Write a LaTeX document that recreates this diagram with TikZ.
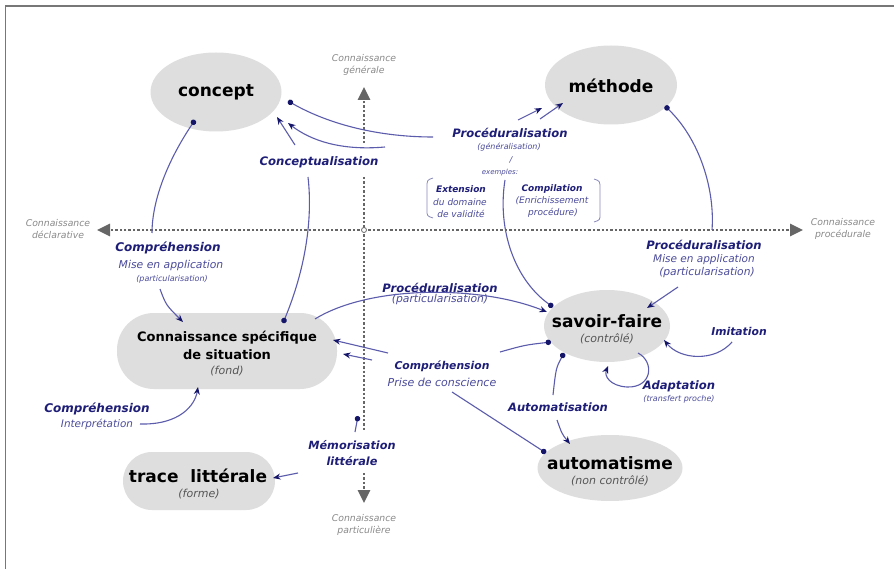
\documentclass[tikz,border=0pt]{standalone}
\usepackage{fontspec}
\setmainfont{DejaVu Sans}
\usetikzlibrary{arrows.meta,shapes.geometric}
\definecolor{labc}{HTML}{1E1E78}
\definecolor{subc}{HTML}{4B4B9B}
\definecolor{linec}{HTML}{5C5CAC}
\definecolor{dotc}{HTML}{15156A}
\definecolor{axisc}{HTML}{666666}
\definecolor{axtext}{HTML}{8A8A8A}
\definecolor{nodec}{HTML}{DEDEDE}
\definecolor{nodesub}{HTML}{555555}
\definecolor{framec}{HTML}{777777}
\definecolor{brc}{HTML}{8A8ABB}
\newcommand{\fsz}[1]{\fontsize{#1}{#1}\selectfont}
\begin{document}
\begin{tikzpicture}[x=1pt,y=-1pt,
  blob/.style={fill=nodec, draw=none, inner sep=0pt},
  ttl/.style={font=\fontsize{17}{20}\selectfont\bfseries, text=black, inner sep=0pt},
  ttlm/.style={font=\fontsize{13}{15}\selectfont\bfseries, text=black, inner sep=0pt},
  sub/.style={font=\fontsize{11}{13}\selectfont\itshape, text=nodesub, inner sep=0pt},
  lab/.style={font=\fontsize{11.6}{14}\selectfont\bfseries\itshape, text=labc, inner sep=0pt},
  labs/.style={font=\fontsize{9}{11}\selectfont\bfseries\itshape, text=labc, inner sep=0pt},
  lsub/.style={font=\fontsize{10.8}{13}\selectfont\itshape, text=subc, inner sep=0pt},
  lsubs/.style={font=\fontsize{9}{11}\selectfont\itshape, text=subc, inner sep=0pt},
  tinyt/.style={font=\fontsize{8}{9}\selectfont\itshape, text=subc, inner sep=0pt},
  axt/.style={font=\fontsize{9.3}{12}\selectfont\itshape, text=axtext, align=center, inner sep=0pt},
  conn/.style={draw=linec, line width=1.1pt},
  cdot/.style={conn, {Circle[length=5.5pt,color=dotc]}-},
  carrow/.style={conn, -{Stealth[length=7.5pt,width=6pt,color=dotc]}},
  ahead/.style={-{Stealth[length=7.5pt,width=6pt,color=dotc]}},
  axisl/.style={draw=axisc, line width=2.6pt, dash pattern=on 2.4pt off 2pt},
  axtip/.style={-{Triangle[length=13pt,width=12pt,color=axisc]}},
]
\fill[white] (0,0) rectangle (894,569);
\useasboundingbox (0,0) rectangle (894,569);
\draw[framec, line width=1.6pt] (5.5,569) -- (5.5,6) -- (894,6);

% ---------- axes ----------
\coordinate (axL) at (97,230);
\coordinate (axR) at (803,230);
\coordinate (axT) at (364,87);
\coordinate (axTa) at (364,143);
\coordinate (axTb) at (364,177);
\coordinate (axBa) at (364,430);
\coordinate (axBb) at (364,473);
\coordinate (axB) at (364,503);
\draw[axisl, axtip] (axTa) -- (axT);
\draw[axisl] (axTb) -- (axBa);
\draw[axisl, axtip] (axBb) -- (axB);
\draw[axisl, axtip] (364,230) -- (axR);
\draw[axisl, axtip] (364,230) -- (axL);
\node[draw=axisc, fill=white, circle, inner sep=0pt, minimum size=5pt, line width=0.8pt] (origin) at (364,230) {};

\node[axt] (axtT) at (364,65) {Connaissance\\générale};
\node[axt] (axtL) at (58,229) {Connaissance\\déclarative};
\node[axt] (axtR) at (843,229) {Connaissance\\procédurale};
\node[axt] (axtB) at (364,525) {Connaissance\\particulière};

% ---------- knowledge nodes ----------
\node[blob, ellipse, minimum width=131pt, minimum height=79pt] (concept) at (216,92) {};
\node[ttl] (conceptT) at (216,92) {concept};

\node[blob, ellipse, minimum width=132pt, minimum height=79pt] (methode) at (611,85) {};
\node[ttl] (methodeT) at (611,86) {méthode};

\node[blob, rectangle, rounded corners=37pt, minimum width=220pt, minimum height=76pt] (css) at (227,351) {};
\node[ttlm] (cssT1) at (227,338) {Connaissance spécifique};
\node[ttlm] (cssT2) at (227,355) {de situation};
\node[sub] (cssT3) at (227,371) {(fond)};

\node[blob, rectangle, rounded corners=29pt, minimum width=152pt, minimum height=58pt] (trace) at (199,481) {};
\node[ttl] (traceT) at (198,476) {trace\ \ littérale};
\node[sub] (traceS) at (199,494) {(forme)};

\node[blob, ellipse, minimum width=126pt, minimum height=72pt] (sf) at (607,326) {};
\node[ttl] (sfT) at (607,321) {savoir-faire};
\node[sub] (sfS) at (607,339) {(contrôlé)};

\node[blob, ellipse, minimum width=145pt, minimum height=66pt] (auto) at (610,468) {};
\node[ttl] (autoT) at (610,463) {automatisme};
\node[sub] (autoS) at (610,481) {(non contrôlé)};

% ---------- labels ----------
\node[lab, font=\fsz{11.7}\bfseries\itshape] (lConc) at (319,162) {Conceptualisation};

\node[lab, font=\fsz{12}\bfseries\itshape] (lCompL) at (168,248) {Compréhension};
\node[lsub] (lCompLs) at (171,266) {Mise en application};
\node[tinyt] (lCompLt) at (172,279) {(particularisation)};

\node[lab] (lProcG) at (510,133) {Procéduralisation};
\node[tinyt] (lProcGs) at (509,147) {(généralisation)};
\node[tinyt] (slash) at (511,160) {/};
\node[tinyt, font=\fsz{7}\itshape] (exemples) at (500,173) {exemples:};
\node[labs] (ext1) at (461,189) {Extension};
\node[lsubs] (ext2) at (460,202) {du domaine};
\node[lsubs] (ext3) at (461,214) {de validité};
\node[labs] (comp1) at (552,189) {Compilation};
\node[lsubs] (comp2) at (552,201) {(Enrichissement};
\node[lsubs] (comp3) at (553,213) {procédure)};
\draw[brc, line width=0.8pt] (433,178) .. controls (427,180) .. (427,188) -- (427,210) .. controls (427,216) .. (433,218);
\draw[brc, line width=0.8pt] (594,179) .. controls (600,181) .. (600,189) -- (600,214) .. controls (600,220) .. (594,222);

\node[lab] (lProcR) at (704,245) {Procéduralisation};
\node[lsub, font=\fsz{10.5}\itshape] (lProcRs) at (704,260) {Mise en application};
\node[lsub, font=\fsz{10.7}\itshape] (lProcRt) at (707,273) {(particularisation)};

\node[lab] (lProcM) at (440,288) {Procéduralisation};
\node[lsub] (lProcMs) at (440,300) {(particularisation)};

\node[lab, font=\fsz{10.8}\bfseries\itshape] (lCompM) at (442,366) {Compréhension};
\node[lsub, font=\fsz{11}\itshape] (lCompMs) at (442,382) {Prise de conscience};

\node[lab, font=\fsz{12}\bfseries\itshape] (lCompI) at (97,409) {Compréhension};
\node[lsub, font=\fsz{10.4}\itshape] (lCompIs) at (97,424) {Interprétation};

\node[lab, font=\fsz{11.3}\bfseries\itshape, align=center] (lMem) at (352,453) {Mémorisation\\[4pt]littérale};

\node[lab, font=\fsz{10.8}\bfseries\itshape] (lImit) at (739,331) {Imitation};
\node[lab] (lAdapt) at (679,386) {Adaptation};
\node[tinyt] (lAdapts) at (679,399) {(transfert proche)};
\node[lab, font=\fsz{11.5}\bfseries\itshape] (lAuto) at (558,407) {Automatisation};

% ---------- connector end points ----------
\coordinate (c1a) at (195,120);   \coordinate (c1b) at (152,233);
\coordinate (c2a) at (160,289);   \coordinate (c2b) at (183,322);
\coordinate (c3a) at (283,323);   \coordinate (c3b) at (308,177);
\coordinate (c4a) at (295,145);   \coordinate (c4b) at (277,117);
\coordinate (c5a) at (385,147);   \coordinate (c5b) at (288,123);
\coordinate (c6a) at (288,101);   \coordinate (c6b) at (433,137);
\coordinate (c7a) at (518,120);   \coordinate (c7b) at (542,108);
\coordinate (c8a) at (540,119);   \coordinate (c8b) at (563,103);
\coordinate (c9a) at (665,106);   \coordinate (c9b) at (712,230);
\coordinate (c10a) at (678,287);  \coordinate (c10b) at (647,308);
\coordinate (c11a) at (553,307);  \coordinate (c11b) at (505,180);
\coordinate (c12a) at (315,319);  \coordinate (c12b) at (547,312);
\coordinate (c13a) at (551,342);  \coordinate (c13b) at (500,352);
\coordinate (c14a) at (388,353);  \coordinate (c14b) at (333,340);
\coordinate (c15a) at (372,360);  \coordinate (c15b) at (343,354);
\coordinate (c16a) at (546,453);  \coordinate (c16b) at (452,392);
\coordinate (c17a) at (564,353);  \coordinate (c17b) at (553,395);
\coordinate (c18a) at (557,420);  \coordinate (c18b) at (570,444);
\coordinate (c19a) at (638,353);  \coordinate (c19m) at (627,387);  \coordinate (c19b) at (608,366);
\coordinate (c20a) at (732,342);  \coordinate (c20b) at (664,340);
\coordinate (c21a) at (140,424);  \coordinate (c21b) at (198,387);
\coordinate (c22a) at (358,416);  \coordinate (c22b) at (355,432);
\coordinate (c23a) at (298,473);  \coordinate (c23b) at (273,478);

% ---------- connectors ----------
\draw[cdot] (c1a) .. controls (168,160) and (152,200) .. (c1b);
\draw[carrow] (c2a) .. controls (166,305) .. (c2b);
\draw[cdot] (c3a) .. controls (305,270) and (313,220) .. (c3b);
\draw[carrow] (c4a) -- (c4b);
\draw[cdot, ahead] (c5a) .. controls (340,151) and (310,140) .. (c5b);
\draw[cdot] (c6a) .. controls (330,125) and (380,137) .. (c6b);
\draw[carrow] (c7a) -- (c7b);
\draw[carrow] (c8a) -- (c8b);
\draw[cdot] (c9a) .. controls (700,140) and (715,190) .. (c9b);
\draw[carrow] (c10a) .. controls (665,296) .. (c10b);
\draw[cdot] (c11a) .. controls (515,280) and (497,230) .. (c11b);
\draw[cdot, ahead] (c12a) .. controls (370,285) and (480,285) .. (c12b);
\draw[cdot] (c13a) .. controls (525,345) .. (c13b);
\draw[carrow] (c14a) -- (c14b);
\draw[carrow] (c15a) -- (c15b);
\draw[cdot] (c16a) -- (c16b);
\draw[cdot] (c17a) .. controls (556,368) .. (c17b);
\draw[carrow] (c18a) .. controls (562,434) .. (c18b);
\draw[cdot, ahead] (c19a) .. controls (655,362) and (652,388) .. (c19m) .. controls (610,386) and (604,376) .. (c19b);
\draw[cdot, ahead] (c20a) .. controls (715,362) and (680,360) .. (c20b);
\draw[cdot, ahead] (c21a) .. controls (180,425) and (195,405) .. (c21b);
\draw[cdot] (c22a) -- (c22b);
\draw[carrow] (c23a) -- (c23b);
\end{tikzpicture}
\end{document}
